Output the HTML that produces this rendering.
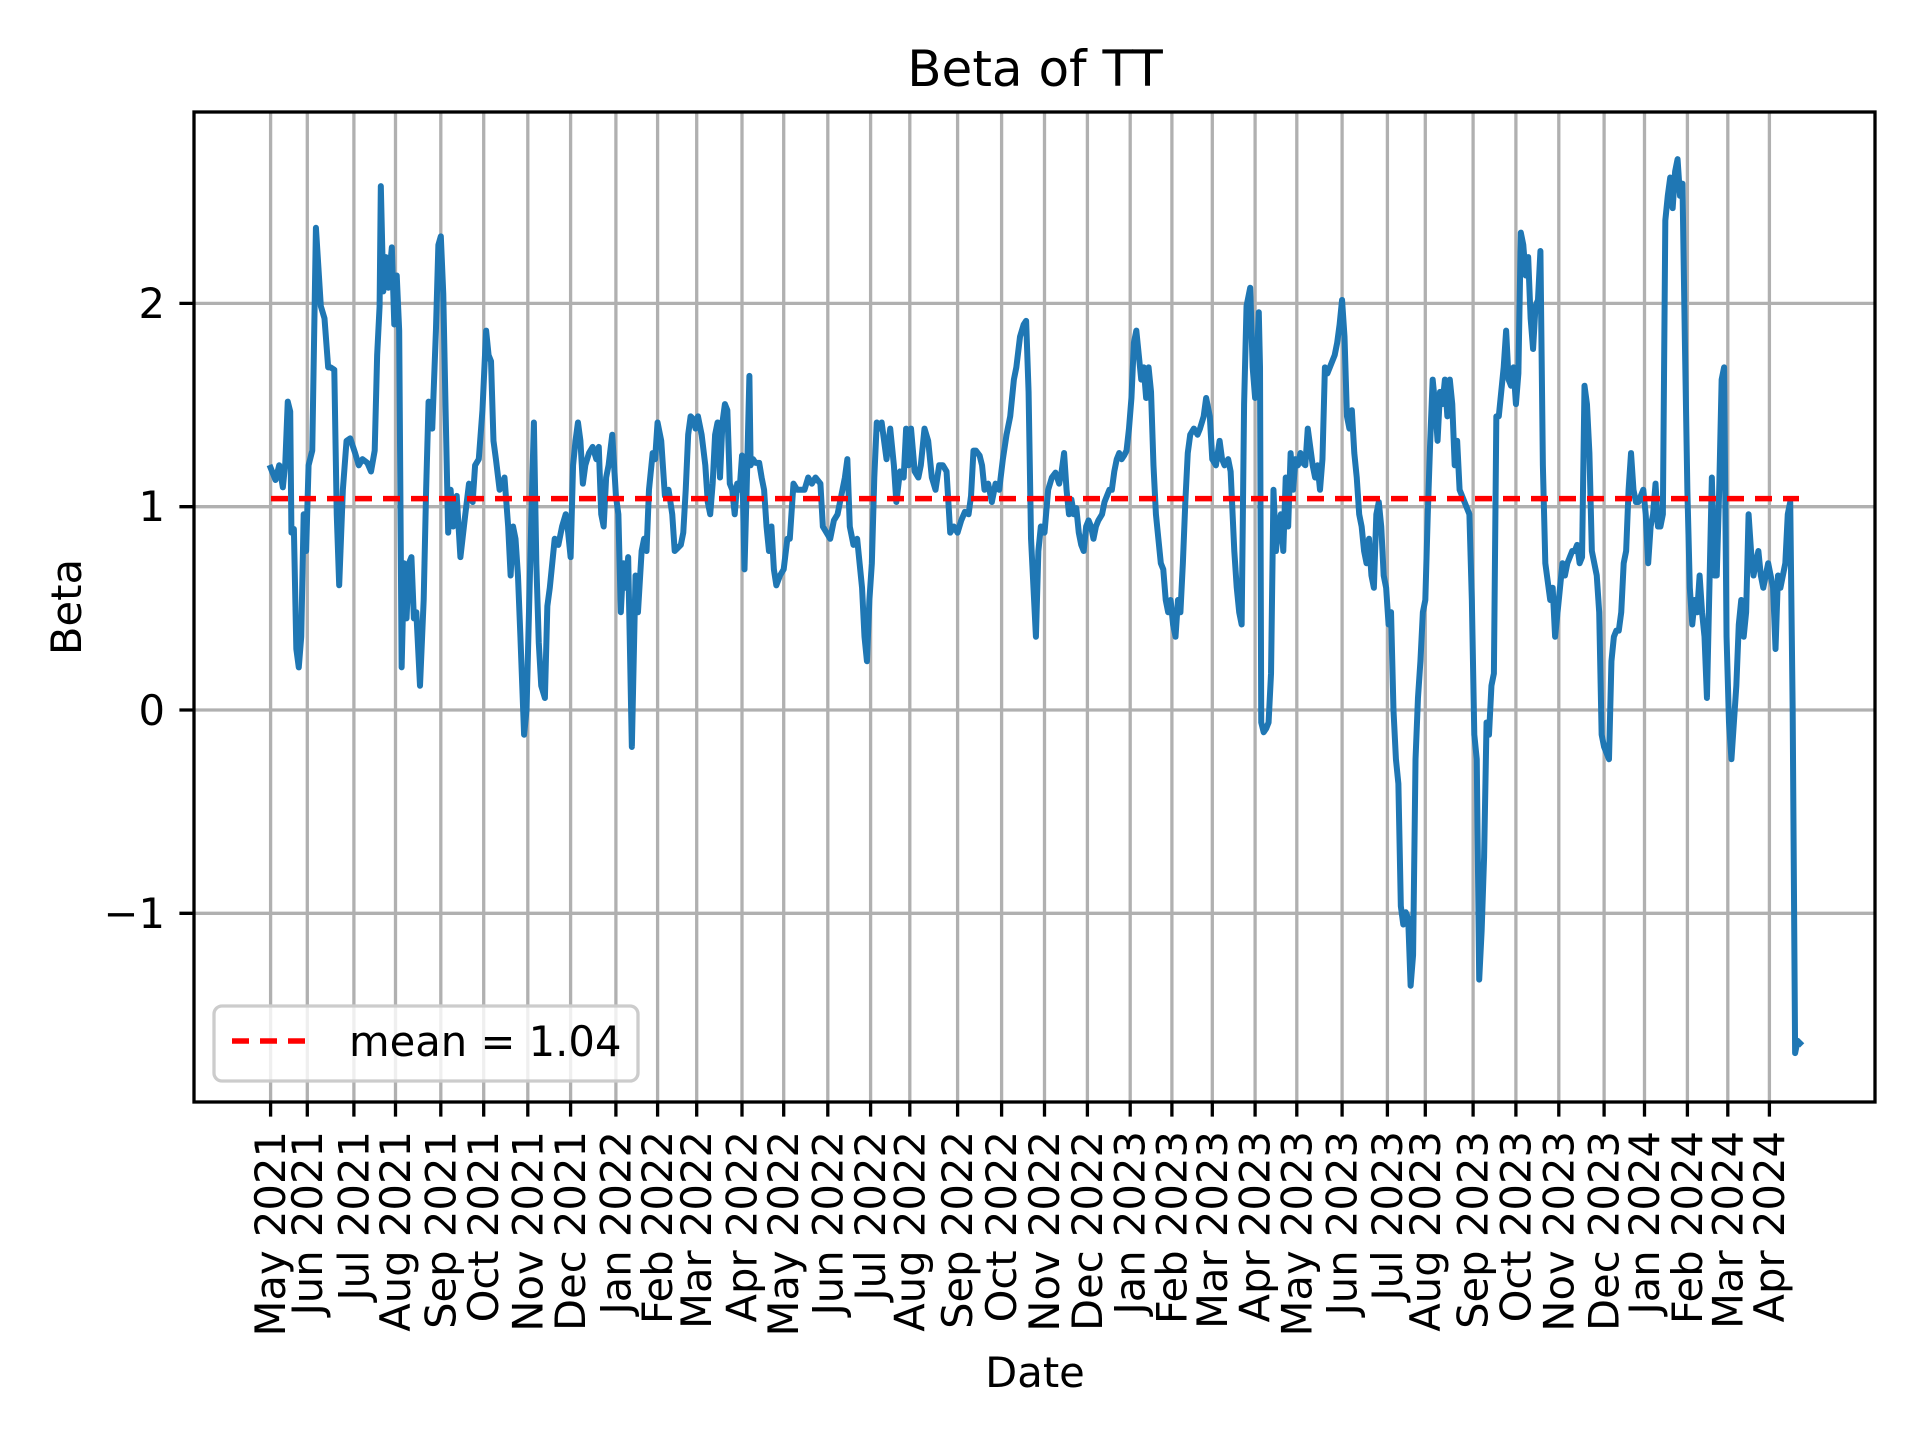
<!DOCTYPE html>
<html><head><meta charset="utf-8"><style>html,body{margin:0;padding:0;background:#fff}svg{display:block}text{font-family:"DejaVu Sans","Liberation Sans",sans-serif;fill:#000}</style></head>
<body>
<svg width="1920" height="1440" viewBox="0 0 1920 1440" xmlns="http://www.w3.org/2000/svg">
<rect width="1920" height="1440" fill="#fff"/>
<g stroke="#b0b0b0" stroke-width="3.3">
<path d="M270.6 112V1102M307.3 112V1102M353.9 112V1102M395.5 112V1102M440.8 112V1102M483.7 112V1102M527.8 112V1102M570.6 112V1102M615.9 112V1102M657.6 112V1102M696.7 112V1102M742 112V1102M783.7 112V1102M827.8 112V1102M870.6 112V1102M909.8 112V1102M957.6 112V1102M1001.6 112V1102M1044.5 112V1102M1087.4 112V1102M1130.2 112V1102M1171.9 112V1102M1212.3 112V1102M1255.1 112V1102M1296.8 112V1102M1342.1 112V1102M1387.4 112V1102M1425.3 112V1102M1473.1 112V1102M1515.9 112V1102M1558.8 112V1102M1604.1 112V1102M1644.5 112V1102M1687.4 112V1102M1727.8 112V1102M1769.4 112V1102"/>
<path d="M194 303.4H1875M194 506.7H1875M194 710H1875M194 913.3H1875"/>
</g>
<g stroke="#000" stroke-width="3.3">
<path d="M270.6 1102v14.6M307.3 1102v14.6M353.9 1102v14.6M395.5 1102v14.6M440.8 1102v14.6M483.7 1102v14.6M527.8 1102v14.6M570.6 1102v14.6M615.9 1102v14.6M657.6 1102v14.6M696.7 1102v14.6M742 1102v14.6M783.7 1102v14.6M827.8 1102v14.6M870.6 1102v14.6M909.8 1102v14.6M957.6 1102v14.6M1001.6 1102v14.6M1044.5 1102v14.6M1087.4 1102v14.6M1130.2 1102v14.6M1171.9 1102v14.6M1212.3 1102v14.6M1255.1 1102v14.6M1296.8 1102v14.6M1342.1 1102v14.6M1387.4 1102v14.6M1425.3 1102v14.6M1473.1 1102v14.6M1515.9 1102v14.6M1558.8 1102v14.6M1604.1 1102v14.6M1644.5 1102v14.6M1687.4 1102v14.6M1727.8 1102v14.6M1769.4 1102v14.6"/>
<path d="M194 303.4h-14.6M194 506.7h-14.6M194 710h-14.6M194 913.3h-14.6"/>
</g>
<g transform="scale(1.2245)">
<polyline fill="none" stroke="#1f77b4" stroke-width="4.9" stroke-linejoin="round" stroke-linecap="square" points="221,382 225,392 228,380 231,398 233,378 235,328 237,336 238,435 240,432 242,530 244,545 246,520 248,420 250,450 252,380 255,368 258,186 262,250 265,260 268,300 270,300 273,302 275,420 277,478 280,400 283,360 286,358 290,370 293,380 296,375 300,378 303,385 306,368 308,290 310,250 311,152 313,238 315,210 317,235 320,202 322,265 324,225 326,270 328,545 330,460 332,505 334,460 336,455 338,505 340,500 343,560 346,490 348,400 350,328 353,350 356,270 358,200 360,193 362,240 364,340 366,435 368,400 370,430 373,405 376,455 380,420 383,395 386,410 388,380 391,375 394,335 397,270 399,290 401,295 403,360 405,375 408,400 412,390 415,430 417,470 419,430 421,440 423,470 425,520 428,600 430,580 432,500 434,420 436,345 438,460 440,525 442,560 445,570 447,495 449,480 451,460 453,440 456,445 459,430 462,420 464,435 466,455 468,380 470,360 472,345 474,360 476,395 478,380 481,370 484,365 487,375 489,365 491,420 493,430 495,390 497,380 500,355 503,405 505,420 507,500 509,460 511,480 513,455 516,610 519,470 521,500 524,450 526,440 528,450 530,400 533,370 535,375 537,345 540,360 543,405 546,400 549,420 551,450 553,448 556,445 558,435 560,400 562,355 564,340 566,342 568,350 570,340 573,355 576,380 578,410 580,420 582,395 584,355 586,345 588,390 590,345 592,330 594,335 596,395 598,400 600,420 602,395 604,400 606,372 608,465 610,390 612,307 613,380 615,375 617,378 620,378 622,390 624,400 626,430 628,450 630,430 632,465 634,478 637,470 640,465 643,440 645,440 648,395 651,400 654,400 657,400 660,390 663,395 666,390 670,395 672,430 675,435 678,440 681,425 684,420 687,405 690,390 692,375 694,430 697,445 700,440 702,460 704,480 706,520 708,540 710,490 712,460 714,390 716,345 718,350 720,345 722,360 724,375 727,350 730,380 732,410 735,385 738,390 740,350 742,380 744,350 747,385 750,390 752,380 755,350 758,360 761,390 764,400 767,380 770,380 773,385 776,435 779,430 782,435 785,425 788,418 791,420 793,405 795,368 797,368 800,372 802,380 804,400 807,395 810,410 813,395 816,400 819,375 822,355 825,340 828,310 830,300 833,275 836,265 838,262 840,320 842,440 844,480 846,520 848,450 850,430 853,435 856,400 859,390 862,386 865,395 867,385 869,370 871,400 873,420 875,408 877,420 879,415 881,435 883,445 885,450 887,430 889,425 891,430 893,440 895,430 897,425 900,420 902,410 904,405 906,400 908,400 910,385 912,375 914,370 916,375 918,372 920,368 922,350 924,325 926,280 928,270 930,290 932,310 934,300 936,325 938,300 940,320 942,380 944,420 946,440 948,460 950,465 952,490 954,500 956,490 958,510 960,520 962,490 964,500 966,460 968,410 970,370 972,355 975,350 978,355 980,350 983,340 985,325 988,340 990,375 993,380 996,360 998,375 1000,380 1003,375 1005,385 1008,450 1010,480 1012,500 1014,510 1016,330 1018,250 1020,240 1021,235 1023,300 1025,325 1027,280 1028,255 1029,300 1030,590 1032,598 1034,595 1036,590 1038,550 1040,400 1042,450 1044,430 1046,420 1048,450 1050,390 1052,430 1054,370 1056,400 1058,375 1060,380 1062,370 1064,378 1066,380 1068,350 1070,365 1072,380 1074,390 1076,380 1078,400 1080,375 1082,300 1084,305 1086,300 1088,295 1090,290 1092,280 1094,265 1096,245 1098,275 1100,340 1102,350 1104,335 1106,370 1108,390 1110,420 1112,430 1114,450 1116,460 1118,440 1120,470 1122,480 1124,420 1126,410 1128,430 1130,470 1132,480 1134,510 1136,500 1138,580 1140,620 1142,640 1144,740 1146,755 1148,745 1150,750 1152,805 1154,780 1156,620 1158,570 1160,540 1162,500 1164,490 1166,420 1168,360 1170,310 1172,330 1174,360 1176,320 1178,330 1180,310 1182,340 1184,310 1186,330 1188,380 1190,360 1192,400 1194,405 1196,410 1198,415 1200,420 1202,490 1204,600 1206,620 1208,800 1210,760 1212,700 1214,590 1216,600 1218,560 1220,550 1222,340 1224,340 1226,320 1228,300 1230,270 1232,310 1234,315 1236,300 1238,330 1240,305 1242,190 1244,200 1246,225 1248,210 1250,260 1252,285 1254,250 1256,245 1258,205 1260,380 1262,460 1264,475 1266,490 1268,480 1270,520 1272,500 1274,480 1276,460 1278,470 1280,460 1282,455 1284,450 1286,450 1288,445 1290,460 1292,455 1294,315 1296,330 1298,370 1300,450 1302,460 1304,470 1306,500 1308,600 1310,610 1312,615 1314,620 1316,540 1318,520 1320,515 1322,515 1324,500 1326,460 1328,450 1330,400 1332,370 1334,400 1336,410 1338,410 1340,405 1342,400 1344,420 1346,460 1348,430 1350,420 1352,395 1354,430 1356,430 1358,420 1360,180 1362,160 1364,145 1366,170 1368,140 1370,130 1372,160 1374,150 1376,280 1378,400 1380,480 1382,510 1384,490 1386,500 1388,470 1390,500 1392,520 1394,570 1396,480 1398,390 1400,470 1402,470 1404,400 1406,310 1408,300 1410,520 1412,590 1414,620 1416,590 1418,560 1420,510 1422,490 1424,520 1426,500 1428,420 1430,450 1432,470 1434,460 1436,450 1438,470 1440,480 1442,470 1444,460 1446,470 1448,480 1450,530 1452,470 1454,480 1456,470 1458,460 1460,420 1462,410 1464,580 1466,860 1468,850 1470,852"/>
</g>
<line x1="271" y1="498.6" x2="1799" y2="498.6" stroke="#ff0000" stroke-width="5.5" stroke-dasharray="17,11"/>
<rect x="194" y="112" width="1681" height="990" fill="none" stroke="#000" stroke-width="3.3"/>
<rect x="214" y="1006" width="424" height="75" rx="8" fill="#fff" fill-opacity="0.8" stroke="#ccc" stroke-width="3.3"/>
<line x1="232" y1="1041" x2="316" y2="1041" stroke="#ff0000" stroke-width="5.5" stroke-dasharray="17,11"/>
<text x="349" y="1056" font-size="41.7">mean = 1.04</text>
<text x="1035" y="86" font-size="50" text-anchor="middle">Beta of TT</text>
<text x="1035" y="1387" font-size="41.7" text-anchor="middle">Date</text>
<text transform="translate(81,607) rotate(-90)" font-size="41.7" text-anchor="middle">Beta</text>
<g font-size="41.7" text-anchor="end">
<text x="165" y="318">2</text>
<text x="165" y="521">1</text>
<text x="165" y="725">0</text>
<text x="165" y="928">−1</text>
</g>
<g font-size="41.7" text-anchor="end" dominant-baseline="central">
<text transform="translate(270.6,1131) rotate(-90)">May 2021</text>
<text transform="translate(307.3,1131) rotate(-90)">Jun 2021</text>
<text transform="translate(353.9,1131) rotate(-90)">Jul 2021</text>
<text transform="translate(395.5,1131) rotate(-90)">Aug 2021</text>
<text transform="translate(440.8,1131) rotate(-90)">Sep 2021</text>
<text transform="translate(483.7,1131) rotate(-90)">Oct 2021</text>
<text transform="translate(527.8,1131) rotate(-90)">Nov 2021</text>
<text transform="translate(570.6,1131) rotate(-90)">Dec 2021</text>
<text transform="translate(615.9,1131) rotate(-90)">Jan 2022</text>
<text transform="translate(657.6,1131) rotate(-90)">Feb 2022</text>
<text transform="translate(696.7,1131) rotate(-90)">Mar 2022</text>
<text transform="translate(742,1131) rotate(-90)">Apr 2022</text>
<text transform="translate(783.7,1131) rotate(-90)">May 2022</text>
<text transform="translate(827.8,1131) rotate(-90)">Jun 2022</text>
<text transform="translate(870.6,1131) rotate(-90)">Jul 2022</text>
<text transform="translate(909.8,1131) rotate(-90)">Aug 2022</text>
<text transform="translate(957.6,1131) rotate(-90)">Sep 2022</text>
<text transform="translate(1001.6,1131) rotate(-90)">Oct 2022</text>
<text transform="translate(1044.5,1131) rotate(-90)">Nov 2022</text>
<text transform="translate(1087.4,1131) rotate(-90)">Dec 2022</text>
<text transform="translate(1130.2,1131) rotate(-90)">Jan 2023</text>
<text transform="translate(1171.9,1131) rotate(-90)">Feb 2023</text>
<text transform="translate(1212.3,1131) rotate(-90)">Mar 2023</text>
<text transform="translate(1255.1,1131) rotate(-90)">Apr 2023</text>
<text transform="translate(1296.8,1131) rotate(-90)">May 2023</text>
<text transform="translate(1342.1,1131) rotate(-90)">Jun 2023</text>
<text transform="translate(1387.4,1131) rotate(-90)">Jul 2023</text>
<text transform="translate(1425.3,1131) rotate(-90)">Aug 2023</text>
<text transform="translate(1473.1,1131) rotate(-90)">Sep 2023</text>
<text transform="translate(1515.9,1131) rotate(-90)">Oct 2023</text>
<text transform="translate(1558.8,1131) rotate(-90)">Nov 2023</text>
<text transform="translate(1604.1,1131) rotate(-90)">Dec 2023</text>
<text transform="translate(1644.5,1131) rotate(-90)">Jan 2024</text>
<text transform="translate(1687.4,1131) rotate(-90)">Feb 2024</text>
<text transform="translate(1727.8,1131) rotate(-90)">Mar 2024</text>
<text transform="translate(1769.4,1131) rotate(-90)">Apr 2024</text>
</g>
</svg>
</body></html>
